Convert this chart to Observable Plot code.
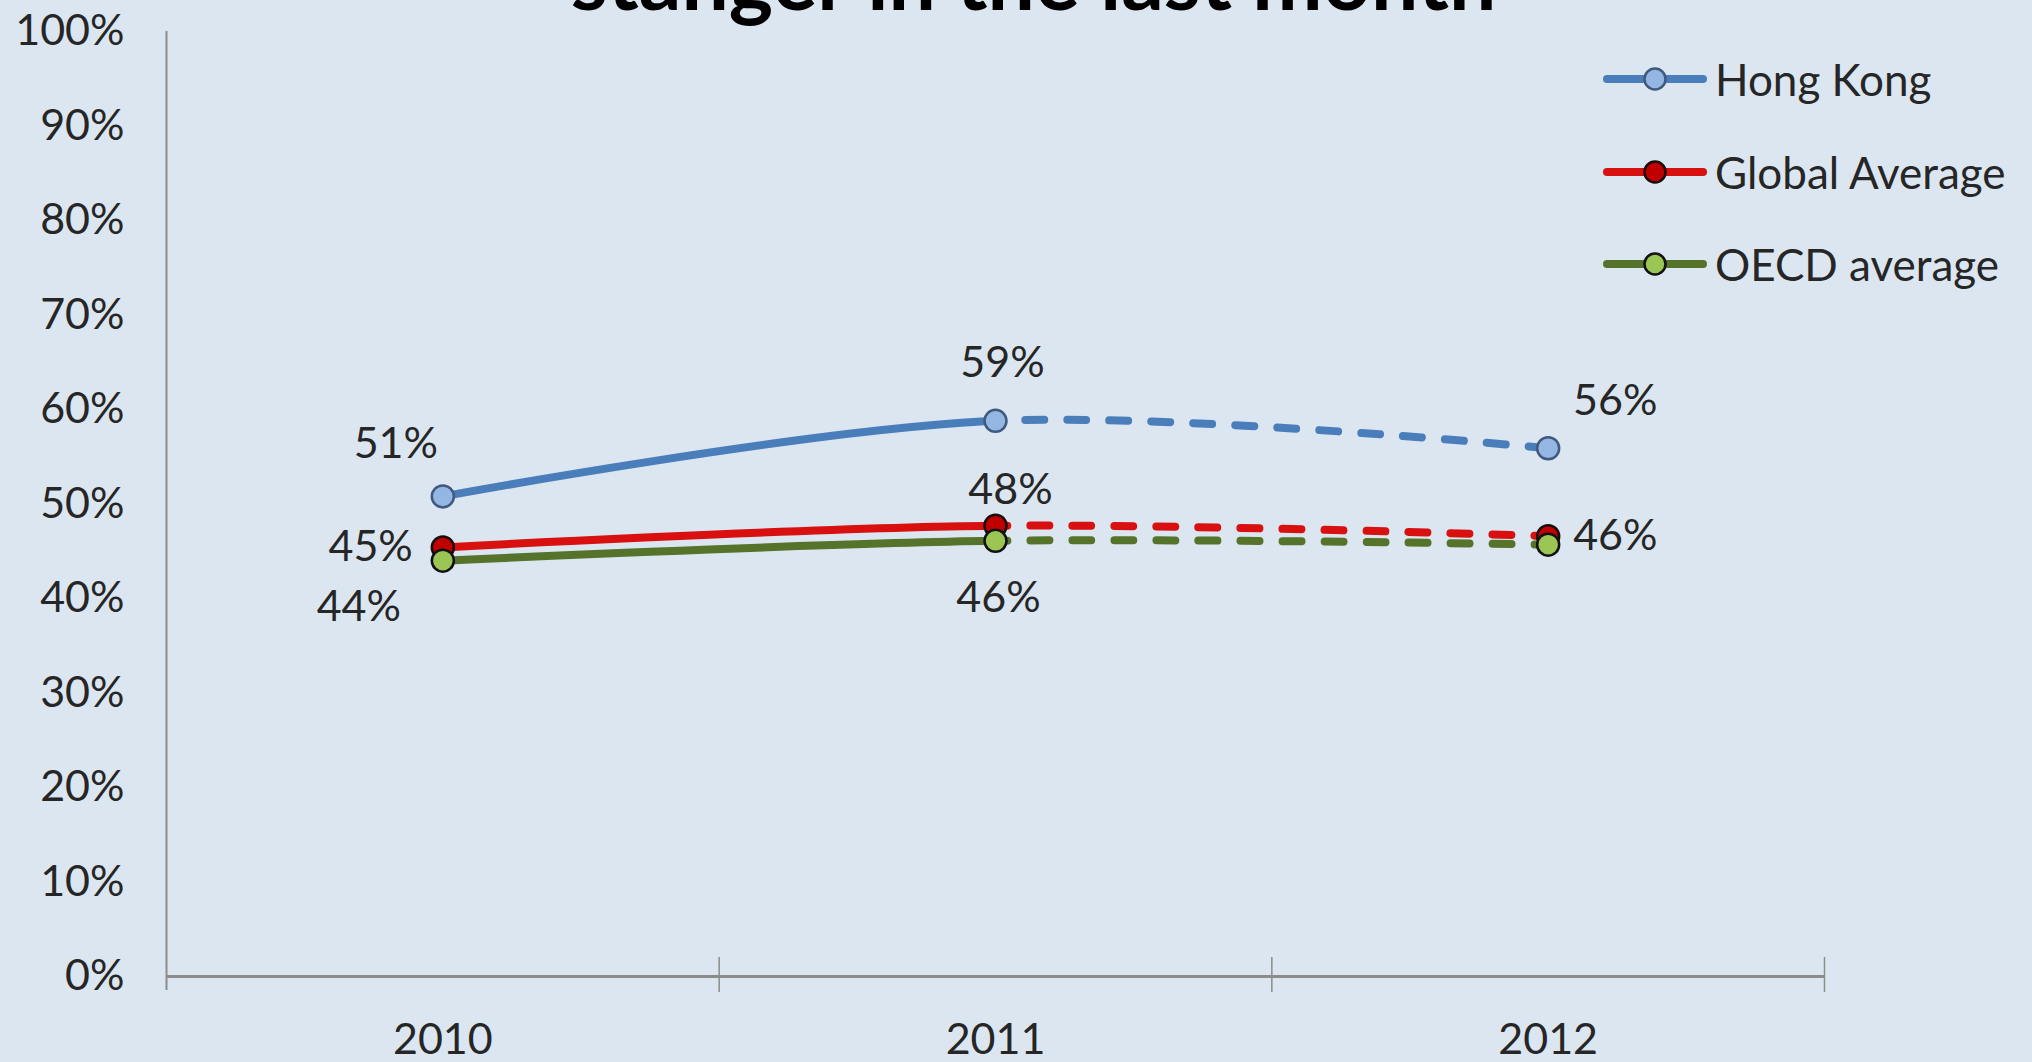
<!DOCTYPE html>
<html>
<head>
<meta charset="utf-8">
<script src="https://cdn.jsdelivr.net/npm/d3@7"></script>
<script src="https://cdn.jsdelivr.net/npm/@observablehq/plot@0.6"></script>
<style>
  html, body { margin: 0; padding: 0; background: #dce6f1; overflow: hidden; }
  #wrap { position: relative; width: 2032px; height: 1062px; background: #dce6f1; }
  #legend { position: absolute; left: 1603px; top: 33px; font-family: Lato, "Open Sans", sans-serif; font-size: 44px; color: #262626; }
  #legend .item { display: flex; align-items: center; height: 92.5px; }
  #legend svg { margin-right: 8px; display: block; }
</style>
</head>
<body>
<div id="wrap"><div id="legend"></div></div>
<script>
// ---- data ----
const years = [2010, 2011, 2012];
const seriesNames = ["Hong Kong", "Global Average", "OECD average"];
const hongKong = [50.8, 58.8, 55.9];
const globalAvg = [45.4, 47.7, 46.6];
const oecdAvg = [44.0, 46.1, 45.7];
const yTicks = [0, 10, 20, 30, 40, 50, 60, 70, 80, 90, 100];
const categoryBounds = [2010.5, 2011.5, 2012.5];
const labelSeries = ["Hong Kong", "Global Average", "OECD average", "Hong Kong", "Global Average", "OECD average", "Hong Kong", "Global Average"];
const labelYears  = [2010, 2010, 2010, 2011, 2011, 2011, 2012, 2012];
const labelTexts  = ["51%", "45%", "44%", "59%", "48%", "46%", "56%", "46%"];
const titleLine = "stanger in the last month";

// ---- styles ----
const styles = {
  "Hong Kong":      { line: "#4a7ebb", fill: "#93b6e2", stroke: "#3f5a7e" },
  "Global Average": { line: "#d81010", fill: "#c00000", stroke: "#1a0a0a" },
  "OECD average":   { line: "#55732a", fill: "#9cc653", stroke: "#111111" }
};
// label placement (offsets in px relative to its point)
const labelPlacement = [
  { dx: -47, dy: -52, anchor: "middle" },
  { dx: -30, dy: 0,   anchor: "end" },
  { dx: -84, dy: 47,  anchor: "middle" },
  { dx: 7,   dy: -58, anchor: "middle" },
  { dx: 15,  dy: -36, anchor: "middle" },
  { dx: 3,   dy: 57,  anchor: "middle" },
  { dx: 67,  dy: -47, anchor: "middle" },
  { dx: 25,  dy: 0,   anchor: "start" }
];

const valuesBySeries = { "Hong Kong": hongKong, "Global Average": globalAvg, "OECD average": oecdAvg };
const rows = [];
seriesNames.forEach(s => years.forEach((yr, j) => rows.push({ series: s, year: yr, value: valuesBySeries[s][j] })));
const labels = labelTexts.map((t, i) => ({
  series: labelSeries[i], year: labelYears[i], text: t,
  value: valuesBySeries[labelSeries[i]][years.indexOf(labelYears[i])]
}));

const font = "Lato, 'Open Sans', sans-serif";
const marks = [];

// axis lines & category tick marks
marks.push(Plot.ruleY([0], { stroke: "#8c8c8c", strokeWidth: 3 }));
marks.push(Plot.ruleX([2009.5], { stroke: "#8c8c8c", strokeWidth: 2, insetBottom: -14 }));
marks.push(Plot.ruleX(categoryBounds, { y1: 0, y2: 0, stroke: "#8c8c8c", strokeWidth: 1.5, insetTop: -19, insetBottom: -16 }));

// series: each curve drawn twice (solid part / dashed part), split later by clipping
seriesNames.forEach(s => {
  const d = rows.filter(r => r.series === s);
  const st = styles[s];
  marks.push(Plot.line(d, { x: "year", y: "value", stroke: st.line, strokeWidth: 8, curve: "catmull-rom", strokeLinecap: "butt" }));
  marks.push(Plot.line(d, { x: "year", y: "value", stroke: st.line, strokeWidth: 8, curve: "catmull-rom", strokeDasharray: "19 23", strokeLinecap: "round" }));
  marks.push(Plot.dot(d, { x: "year", y: "value", r: 11, fill: st.fill, stroke: st.stroke, strokeWidth: 2.5 }));
});

// data labels
labels.forEach((l, i) => {
  const p = labelPlacement[i];
  marks.push(Plot.text([l], { x: "year", y: "value", text: "text", dx: p.dx, dy: p.dy, textAnchor: p.anchor, fontSize: 43, fill: "#262626" }));
});

// title (only its last line shows, clipped at the top of the picture)
marks.push(Plot.text([titleLine], { frameAnchor: "top", text: d => d, dx: 38, dy: -22, lineAnchor: "bottom", fontSize: 84, fontWeight: "bold", fill: "#000" }));

const plot = Plot.plot({
  width: 2032,
  height: 1062,
  marginLeft: 166,
  marginRight: 208,
  marginTop: 31,
  marginBottom: 86,
  style: { background: "transparent", fontFamily: font, fontSize: "43px", color: "#262626" },
  x: { domain: [2009.5, 2012.5], ticks: years, tickSize: 0, tickPadding: 47, tickFormat: d => String(d), label: null },
  y: { domain: [0, 100], ticks: yTicks, tickSize: 0, tickPadding: 42, tickFormat: d => d + "%", label: null },
  marks
});

// split each curve: solid up to 2011, dashed after 2011
const xs = plot.scale("x");
const xSplit = xs.apply(2011);
const svgEl = plot.tagName.toLowerCase() === "svg" ? plot : plot.querySelector("svg");
const svg = d3.select(svgEl);
const defs = svg.insert("defs", ":first-child");
defs.append("clipPath").attr("id", "clip-left").attr("clipPathUnits", "userSpaceOnUse").append("rect")
  .attr("x", 0).attr("y", 0).attr("width", xSplit).attr("height", 1062);
defs.append("clipPath").attr("id", "clip-right").attr("clipPathUnits", "userSpaceOnUse").append("rect")
  .attr("x", xSplit).attr("y", 0).attr("width", 2032 - xSplit).attr("height", 1062);
svg.selectAll("g").each(function () {
  const g = d3.select(this);
  if (g.attr("stroke-width") !== "8") return;
  if (g.select("path").empty()) return;
  g.attr("clip-path", g.attr("stroke-dasharray") ? "url(#clip-right)" : "url(#clip-left)");
});

document.getElementById("wrap").prepend(plot);

// legend (HTML, overlaid at top right)
const legend = d3.select("#legend");
seriesNames.forEach(s => {
  const st = styles[s];
  const item = legend.append("div").attr("class", "item");
  const sw = item.append("svg").attr("width", 104).attr("height", 30);
  sw.append("line").attr("x1", 4).attr("x2", 100).attr("y1", 15).attr("y2", 15)
    .attr("stroke", st.line).attr("stroke-width", 8).attr("stroke-linecap", "round");
  sw.append("circle").attr("cx", 52).attr("cy", 15).attr("r", 10.5)
    .attr("fill", st.fill).attr("stroke", st.stroke).attr("stroke-width", 2.5);
  item.append("span").text(s);
});
</script>
</body>
</html>
